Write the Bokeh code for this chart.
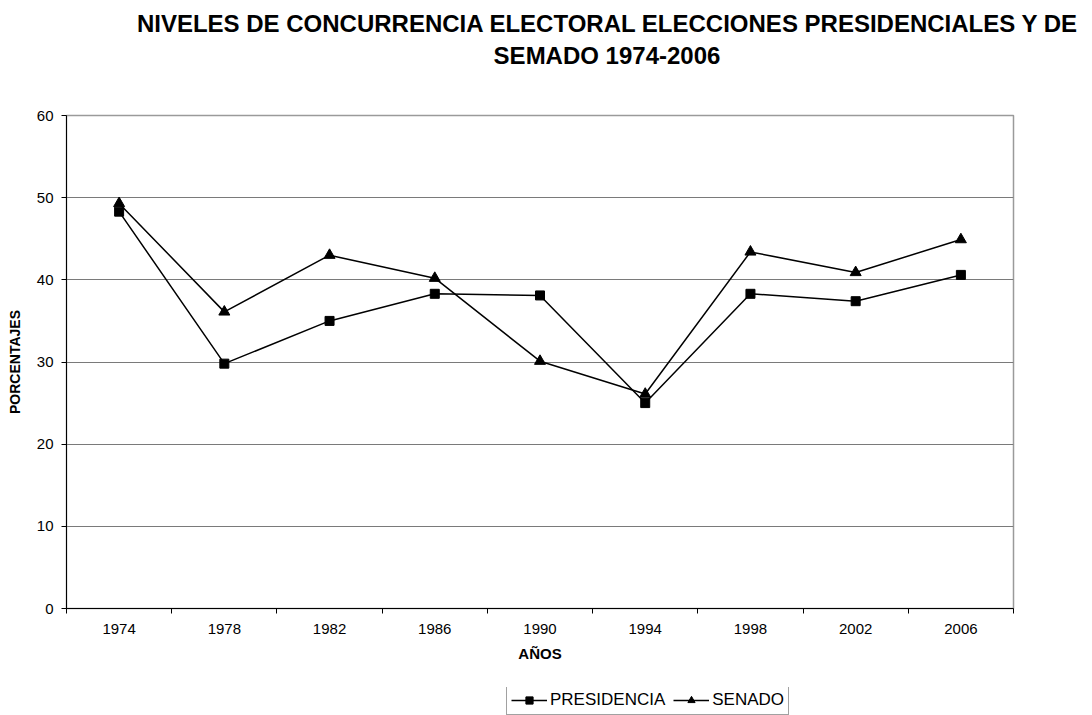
from bokeh.plotting import figure
from bokeh.layouts import column
from bokeh.models import (ColumnDataSource, FixedTicker, Legend, LegendItem,
                          Range1d, Div)
from bokeh.embed import file_html
from bokeh.resources import INLINE

# Turnout levels (%) by election year
years = ["1974", "1978", "1982", "1986", "1990", "1994", "1998", "2002", "2006"]
presidencia = [48.3, 29.8, 35.0, 38.3, 38.1, 25.0, 38.3, 37.4, 40.6]
senado = [49.3, 36.1, 43.0, 40.2, 30.1, 26.1, 43.4, 40.9, 44.9]
y_ticks = [0, 10, 20, 30, 40, 50, 60]
series_names = ["PRESIDENCIA", "SENADO"]
title_lines = ["NIVELES DE CONCURRENCIA ELECTORAL ELECCIONES PRESIDENCIALES Y DE",
               "SEMADO 1974-2006"]

FONT = "Liberation Sans"

# category slots: each year sits in the middle of a unit-wide slot
xpos = [i + 0.5 for i in range(len(years))]
src = ColumnDataSource(dict(x=xpos, pres=presidencia, sen=senado))

# two-line bold heading
head = Div(text="<br>".join(title_lines), width=970, height=97,
           margin=(8, 0, 0, 122),
           styles={"font-family": FONT, "font-weight": "bold",
                   "font-size": "24px", "line-height": "31.6px",
                   "text-align": "center", "color": "black"})

p = figure(width=1092, height=582, output_backend="svg", toolbar_location=None,
           x_range=Range1d(0, len(years)), y_range=Range1d(0, 60),
           min_border_left=66, min_border_right=79,
           min_border_top=10, min_border_bottom=79)
p.background_fill_color = "white"
p.border_fill_color = "white"
p.outline_line_color = "#9a9a9a"
p.outline_line_width = 1.5

# x axis: year labels centred in slots, tick marks on slot boundaries
xa = p.xaxis[0]
xa.ticker = FixedTicker(ticks=xpos, minor_ticks=list(range(len(years) + 1)))
xa.major_label_overrides = {x: y for x, y in zip(xpos, years)}
xa.major_tick_line_color = None
xa.minor_tick_in = 0
xa.minor_tick_out = 5
xa.minor_tick_line_color = "black"
xa.axis_line_color = "black"
xa.major_label_text_font = FONT
xa.major_label_text_font_size = "15px"
xa.major_label_text_color = "black"
xa.major_label_standoff = 9
xa.axis_label = "AÑOS"
xa.axis_label_text_font = FONT
xa.axis_label_text_font_style = "bold"
xa.axis_label_text_font_size = "15px"
xa.axis_label_text_color = "black"
xa.axis_label_standoff = 8

ya = p.yaxis[0]
ya.ticker = FixedTicker(ticks=y_ticks)
ya.minor_tick_line_color = None
ya.major_tick_in = 0
ya.major_tick_out = 5
ya.major_tick_line_color = "black"
ya.axis_line_color = "black"
ya.major_label_text_font = FONT
ya.major_label_text_font_size = "15px"
ya.major_label_text_color = "black"
ya.major_label_standoff = 8
ya.axis_label = "PORCENTAJES"
ya.axis_label_text_font = FONT
ya.axis_label_text_font_style = "bold"
ya.axis_label_text_font_size = "14px"
ya.axis_label_text_color = "black"
ya.axis_label_standoff = 11

p.xgrid.grid_line_color = None
p.ygrid.ticker = FixedTicker(ticks=y_ticks)
p.ygrid.grid_line_color = "#7a7a7a"
p.ygrid.grid_line_width = 1

# series
p.line("x", "pres", source=src, line_color="black", line_width=1.5)
p.scatter("x", "pres", source=src, marker="square", size=9,
          fill_color="black", line_color="black")
p.line("x", "sen", source=src, line_color="black", line_width=1.5)
p.scatter("x", "sen", source=src, marker="triangle", size=11,
          fill_color="black", line_color="black")

# legend strip below the chart; its glyph renderers sit outside the strip's view
lg = figure(width=1092, height=28, output_backend="svg", toolbar_location=None,
            x_range=Range1d(100, 101), y_range=Range1d(100, 101),
            x_axis_location=None, y_axis_location=None,
            min_border=0, outline_line_color=None)
lg.grid.grid_line_color = None
k1 = lg.line("x", "pres", source=src, line_color="black", line_width=1.5)
k2 = lg.scatter("x", "pres", source=src, marker="square", size=9,
                fill_color="black", line_color="black")
k3 = lg.line("x", "sen", source=src, line_color="black", line_width=1.5)
k4 = lg.scatter("x", "sen", source=src, marker="triangle", size=11,
                fill_color="black", line_color="black")
legend = Legend(items=[LegendItem(label=series_names[0], renderers=[k1, k2]),
                       LegendItem(label=series_names[1], renderers=[k3, k4])],
                orientation="horizontal", location=(440, 0),
                glyph_width=36, glyph_height=18, label_height=18,
                label_standoff=3, spacing=8, padding=4, margin=0,
                label_text_font=FONT, label_text_font_size="17px",
                label_text_color="black",
                border_line_color="#444444", border_line_width=1,
                background_fill_color="white", background_fill_alpha=1)
lg.add_layout(legend, "center")

layout = column(head, p, lg, spacing=0)
open("out.html", "w").write(file_html(layout, INLINE))
